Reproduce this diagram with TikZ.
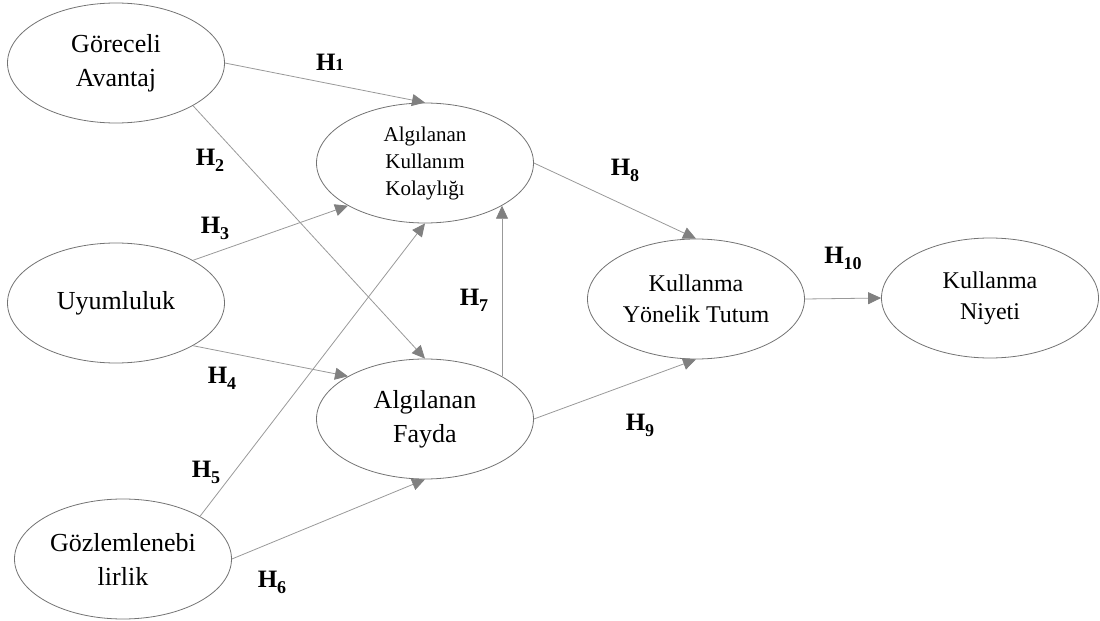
\documentclass[tikz,border=0pt]{standalone}
\usepackage{fontspec}
\setmainfont{Liberation Serif}
\usetikzlibrary{shapes.geometric,arrows.meta}

\tikzset{
  VertexStyle/.style={ellipse, draw=black!55, line width=0.4pt, minimum width=108.5pt,
    minimum height=60pt, inner sep=0pt, align=center, font=\fontsize{13}{17}\selectfont},
  EdgeStyle/.style={draw=black!40, line width=0.4pt,
    -{Triangle[length=6.5pt,width=6pt,color=black!50]}},
  LabelStyle/.style={inner sep=0pt, font=\fontsize{12.5}{12.5}\selectfont\bfseries}
}
\newcommand{\Hyp}[1]{H\raisebox{-3pt}{\fontsize{9}{9}\selectfont #1}}

\begin{document}
\begin{tikzpicture}[x=0.5pt,y=-0.5pt]
\useasboundingbox (0,0) rectangle (1100,621);

\node[VertexStyle] (GA) at (116,63) {Göreceli\\Avantaj};
\node[VertexStyle, font=\fontsize{10.5}{13.5}\selectfont] (AKK) at (425,163) {Algılanan\\Kullanım\\Kolaylığı};
\node[VertexStyle] (UY) at (116,303) {Uyumluluk};
\node[VertexStyle] (AF) at (425,419) {Algılanan\\Fayda};
\node[VertexStyle] (GO) at (123,559) {Gözlemlenebi\\lirlik};
\node[VertexStyle, font=\fontsize{12}{15.5}\selectfont] (KYT) at (696,299) {Kullanma\\Yönelik Tutum};
\node[VertexStyle, font=\fontsize{12}{15.5}\selectfont] (KN) at (990,298) {Kullanma\\Niyeti};

\draw[EdgeStyle] (GA.east) -- (AKK.north);
\draw[EdgeStyle] (GA.south east) -- (AF.north);
\draw[EdgeStyle] (UY.north east) -- (AKK.south west);
\draw[EdgeStyle] (UY.south east) -- (AF.north west);
\draw[EdgeStyle] (GO.north east) -- (AKK.south);
\draw[EdgeStyle] (GO.east) -- (AF.south);
\draw[EdgeStyle] (AF.north east) -- (AKK.south east);
\draw[EdgeStyle] (AKK.east) -- (KYT.north);
\draw[EdgeStyle] (AF.east) -- (KYT.south);
\draw[EdgeStyle] (KYT.east) -- (KN.west);

\node[LabelStyle] (h1) at (330,62) {H{\fontsize{8.5}{8.5}\selectfont 1}};
\node[LabelStyle] (h2) at (210,160) {\Hyp{2}};
\node[LabelStyle] (h3) at (215,228) {\Hyp{3}};
\node[LabelStyle] (h4) at (222,378) {\Hyp{4}};
\node[LabelStyle] (h5) at (206,472) {\Hyp{5}};
\node[LabelStyle] (h6) at (272,582) {\Hyp{6}};
\node[LabelStyle] (h7) at (474,300) {\Hyp{7}};
\node[LabelStyle] (h8) at (625,170) {\Hyp{8}};
\node[LabelStyle] (h9) at (640,425) {\Hyp{9}};
\node[LabelStyle] (h10) at (843,258) {\Hyp{10}};
\end{tikzpicture}
\end{document}
